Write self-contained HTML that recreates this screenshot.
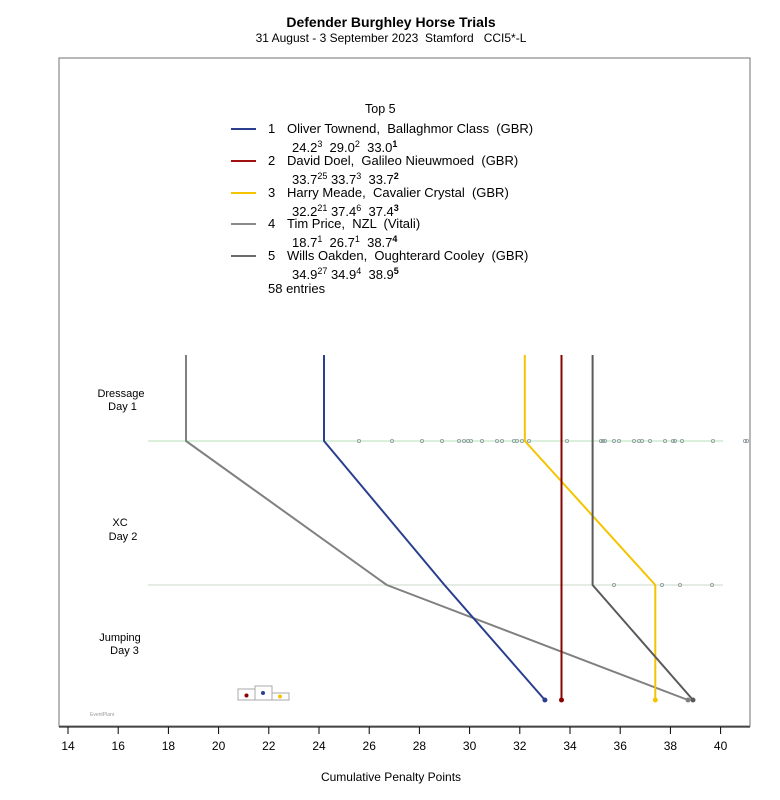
<!DOCTYPE html>
<html><head><meta charset="utf-8"><style>
body{margin:0;background:#fff;}
svg{display:block;font-family:"Liberation Sans",sans-serif;}
text{white-space:pre;}
</style></head><body>
<svg width="780" height="800" xmlns="http://www.w3.org/2000/svg">
<rect width="780" height="800" fill="#fff"/>
<text x="391" y="27" text-anchor="middle" font-size="14" font-weight="bold">Defender Burghley Horse Trials</text>
<text x="391" y="42" text-anchor="middle" font-size="12">31 August - 3 September 2023  Stamford   CCI5*-L</text>
<rect x="59" y="58" width="691" height="668" fill="none" stroke="#888" stroke-width="1.2"/>
<line x1="59" y1="727" x2="750" y2="727" stroke="#000" stroke-width="1"/>
<g stroke="#000" stroke-width="1">
<line x1="68" y1="727" x2="68" y2="734"/><line x1="118.2" y1="727" x2="118.2" y2="734"/><line x1="168.4" y1="727" x2="168.4" y2="734"/><line x1="218.6" y1="727" x2="218.6" y2="734"/><line x1="268.8" y1="727" x2="268.8" y2="734"/><line x1="319" y1="727" x2="319" y2="734"/><line x1="369.2" y1="727" x2="369.2" y2="734"/><line x1="419.4" y1="727" x2="419.4" y2="734"/><line x1="469.6" y1="727" x2="469.6" y2="734"/><line x1="519.8" y1="727" x2="519.8" y2="734"/><line x1="570" y1="727" x2="570" y2="734"/><line x1="620.2" y1="727" x2="620.2" y2="734"/><line x1="670.4" y1="727" x2="670.4" y2="734"/><line x1="720.6" y1="727" x2="720.6" y2="734"/>
</g>
<g font-size="12" text-anchor="middle">
<text x="68" y="750">14</text><text x="118.2" y="750">16</text><text x="168.4" y="750">18</text><text x="218.6" y="750">20</text><text x="268.8" y="750">22</text><text x="319" y="750">24</text><text x="369.2" y="750">26</text><text x="419.4" y="750">28</text><text x="469.6" y="750">30</text><text x="519.8" y="750">32</text><text x="570" y="750">34</text><text x="620.2" y="750">36</text><text x="670.4" y="750">38</text><text x="720.6" y="750">40</text>
</g>
<text x="391" y="781" text-anchor="middle" font-size="12">Cumulative Penalty Points</text>
<g font-size="11" text-anchor="middle">
<text x="121" y="397">Dressage</text><text x="121" y="410"> Day 1</text>
<text x="120" y="526">XC</text><text x="123" y="540">Day 2</text>
<text x="120" y="641">Jumping</text><text x="123" y="654"> Day 3</text>
</g>
<text x="90" y="716" font-size="5" fill="#999">EventPlanr</text>
<!-- legend -->
<text x="365" y="113" font-size="12.5">Top 5</text>
<g stroke-width="2">
<line x1="231" y1="129" x2="256" y2="129" stroke="#2b3f8f"/>
<line x1="231" y1="161" x2="256" y2="161" stroke="#a01010"/>
<line x1="231" y1="193" x2="256" y2="193" stroke="#f5c400"/>
<line x1="231" y1="224" x2="256" y2="224" stroke="#8a8a8a"/>
<line x1="231" y1="256" x2="256" y2="256" stroke="#6a6a6a"/>
</g>
<g font-size="13">
<text x="268" y="133">1</text><text x="287" y="133">Oliver Townend,  Ballaghmor Class  (GBR)</text>
<text x="292" y="152">24.2<tspan font-size="9" dy="-5">3</tspan><tspan dy="5">  29.0</tspan><tspan font-size="9" dy="-5">2</tspan><tspan dy="5">  33.0</tspan><tspan font-size="9" dy="-5" font-weight="bold">1</tspan></text>
<text x="268" y="165">2</text><text x="287" y="165">David Doel,  Galileo Nieuwmoed  (GBR)</text>
<text x="292" y="184">33.7<tspan font-size="9" dy="-5">25</tspan><tspan dy="5"> 33.7</tspan><tspan font-size="9" dy="-5">3</tspan><tspan dy="5">  33.7</tspan><tspan font-size="9" dy="-5" font-weight="bold">2</tspan></text>
<text x="268" y="197">3</text><text x="287" y="197">Harry Meade,  Cavalier Crystal  (GBR)</text>
<text x="292" y="216">32.2<tspan font-size="9" dy="-5">21</tspan><tspan dy="5"> 37.4</tspan><tspan font-size="9" dy="-5">6</tspan><tspan dy="5">  37.4</tspan><tspan font-size="9" dy="-5" font-weight="bold">3</tspan></text>
<text x="268" y="228">4</text><text x="287" y="228">Tim Price,  NZL  (Vitali)</text>
<text x="292" y="247">18.7<tspan font-size="9" dy="-5">1</tspan><tspan dy="5">  26.7</tspan><tspan font-size="9" dy="-5">1</tspan><tspan dy="5">  38.7</tspan><tspan font-size="9" dy="-5" font-weight="bold">4</tspan></text>
<text x="268" y="260">5</text><text x="287" y="260">Wills Oakden,  Oughterard Cooley  (GBR)</text>
<text x="292" y="279">34.9<tspan font-size="9" dy="-5">27</tspan><tspan dy="5"> 34.9</tspan><tspan font-size="9" dy="-5">4</tspan><tspan dy="5">  38.9</tspan><tspan font-size="9" dy="-5" font-weight="bold">5</tspan></text>
<text x="268" y="293">58 entries</text>
</g>
<!-- stage lines -->
<line x1="148" y1="441" x2="723" y2="441" stroke="#b5e0b5" stroke-width="1"/>
<line x1="148" y1="585" x2="723" y2="585" stroke="#c8d8c8" stroke-width="1"/>
<g fill="none" stroke="#8a9aa0" stroke-width="0.8">
<circle cx="359" cy="441" r="1.6"/><circle cx="392" cy="441" r="1.6"/><circle cx="422" cy="441" r="1.6"/><circle cx="442" cy="441" r="1.6"/><circle cx="459" cy="441" r="1.6"/><circle cx="464" cy="441" r="1.6"/><circle cx="468" cy="441" r="1.6"/><circle cx="471" cy="441" r="1.6"/><circle cx="482" cy="441" r="1.6"/><circle cx="497" cy="441" r="1.6"/><circle cx="502" cy="441" r="1.6"/><circle cx="514" cy="441" r="1.6"/><circle cx="517" cy="441" r="1.6"/><circle cx="522" cy="441" r="1.6"/><circle cx="529" cy="441" r="1.6"/><circle cx="567" cy="441" r="1.6"/><circle cx="601" cy="441" r="1.6"/><circle cx="603" cy="441" r="1.6"/><circle cx="605" cy="441" r="1.6"/><circle cx="614" cy="441" r="1.6"/><circle cx="619" cy="441" r="1.6"/><circle cx="634" cy="441" r="1.6"/><circle cx="639" cy="441" r="1.6"/><circle cx="642" cy="441" r="1.6"/><circle cx="650" cy="441" r="1.6"/><circle cx="665" cy="441" r="1.6"/><circle cx="673" cy="441" r="1.6"/><circle cx="675" cy="441" r="1.6"/><circle cx="682" cy="441" r="1.6"/><circle cx="713" cy="441" r="1.6"/><circle cx="745" cy="441" r="1.6"/><circle cx="747" cy="441" r="1.6"/>
<circle cx="614" cy="585" r="1.6"/><circle cx="662" cy="585" r="1.6"/><circle cx="680" cy="585" r="1.6"/><circle cx="712" cy="585" r="1.6"/>
</g>
<!-- series -->
<g fill="none" stroke-width="2" stroke-linejoin="round">
<polyline points="186,355 186,441 386.8,585 688,700" stroke="#808080"/>
<polyline points="324,355 324,441 444.5,585 544.9,700" stroke="#2b3f8f"/>
<polyline points="524.8,355 524.8,441 655.3,585 655.3,700" stroke="#f5c400"/>
<polyline points="561.5,355 561.5,700" stroke="#8b0000"/>
<polyline points="592.6,355 592.6,585 693,700" stroke="#5a5a5a"/>
</g>
<circle cx="688" cy="700" r="2.5" fill="#808080"/>
<circle cx="544.9" cy="700" r="2.5" fill="#2b3f8f"/>
<circle cx="655.3" cy="700" r="2.5" fill="#f5c400"/>
<circle cx="561.5" cy="700" r="2.5" fill="#8b0000"/>
<circle cx="693" cy="700" r="2.5" fill="#5a5a5a"/>
<!-- podium -->
<g fill="none" stroke="#aaa" stroke-width="1">
<rect x="238" y="689" width="17" height="11"/><rect x="255" y="686" width="17" height="14"/><rect x="272" y="693" width="17" height="7"/>
</g>
<circle cx="246.5" cy="695.5" r="2" fill="#8b0000"/>
<circle cx="263" cy="693" r="2" fill="#2b3f8f"/>
<circle cx="280" cy="696.5" r="2" fill="#f5c400"/>
</svg>
</body></html>
